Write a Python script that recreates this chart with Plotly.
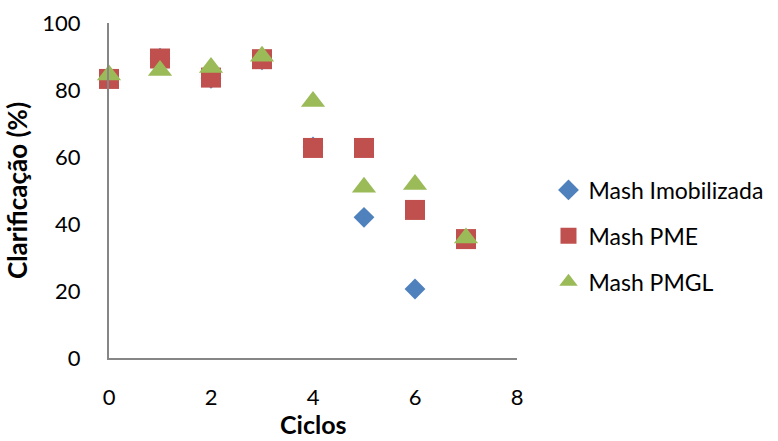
import plotly.graph_objects as go

ciclos = [0, 1, 2, 3, 4, 5, 6, 7]
imobilizada_x = [0, 1, 2, 3, 4, 5, 6]
imobilizada_y = [83.5, 89.5, 83.5, 89.0, 63.0, 42.0, 20.6]
pme_y = [83.3, 89.4, 83.7, 89.2, 62.7, 62.7, 44.2, 35.5]
pmgl_y = [84.5, 85.8, 86.7, 90.1, 76.6, 51.0, 51.8, 35.8]

x_ticks = [0, 2, 4, 6, 8]
y_ticks = [0, 20, 40, 60, 80, 100]

FONT = "Lato, Calibri, Carlito, sans-serif"

fig = go.Figure()
fig.add_trace(go.Scatter(
    x=imobilizada_x, y=imobilizada_y, mode="markers", name="Mash Imobilizada",
    legendgroup="a", cliponaxis=False,
    marker=dict(symbol="diamond", size=16, color="#4F81BD", line=dict(width=0))))
fig.add_trace(go.Scatter(
    x=ciclos, y=pme_y, mode="markers", name="Mash PME", legendgroup="b",
    cliponaxis=False,
    marker=dict(symbol="square", size=20, color="#C0504D", line=dict(width=0))))
fig.add_trace(go.Scatter(
    x=ciclos, y=pmgl_y, mode="markers", name="Mash PMGL", legendgroup="c",
    cliponaxis=False,
    marker=dict(symbol="triangle-up", size=21, color="#9BBB59", line=dict(width=0))))

axis_common = dict(showgrid=False, zeroline=False, showline=True, automargin=False,
                   linecolor="#868686", linewidth=2, ticks="",
                   tickfont=dict(family=FONT, size=22, color="#000000"))

fig.update_layout(
    width=778, height=441,
    margin=dict(l=109, r=261, t=23, b=83),
    paper_bgcolor="white", plot_bgcolor="white",
    font=dict(family=FONT, color="#000000"),
    xaxis=dict(range=[0, 8], tickvals=x_ticks, ticklabelstandoff=19, **axis_common),
    yaxis=dict(range=[0, 100], tickvals=y_ticks, ticklabelstandoff=22,
               title=dict(text="<b>Clarificação (%)</b>", font=dict(family=FONT, size=26), standoff=7),
               **axis_common),
    showlegend=True,
    legend=dict(xref="container", yref="container", x=0.705, y=0.465,
                xanchor="left", yanchor="middle",
                font=dict(family=FONT, size=23), tracegroupgap=13,
                bgcolor="rgba(0,0,0,0)", itemwidth=30),
    annotations=[dict(text="<b>Ciclos</b>", xref="paper", yref="paper",
                      x=0.5, y=-0.247, xanchor="center", yanchor="bottom",
                      showarrow=False, font=dict(family=FONT, size=25))],
)

fig.write_html("out.html")
